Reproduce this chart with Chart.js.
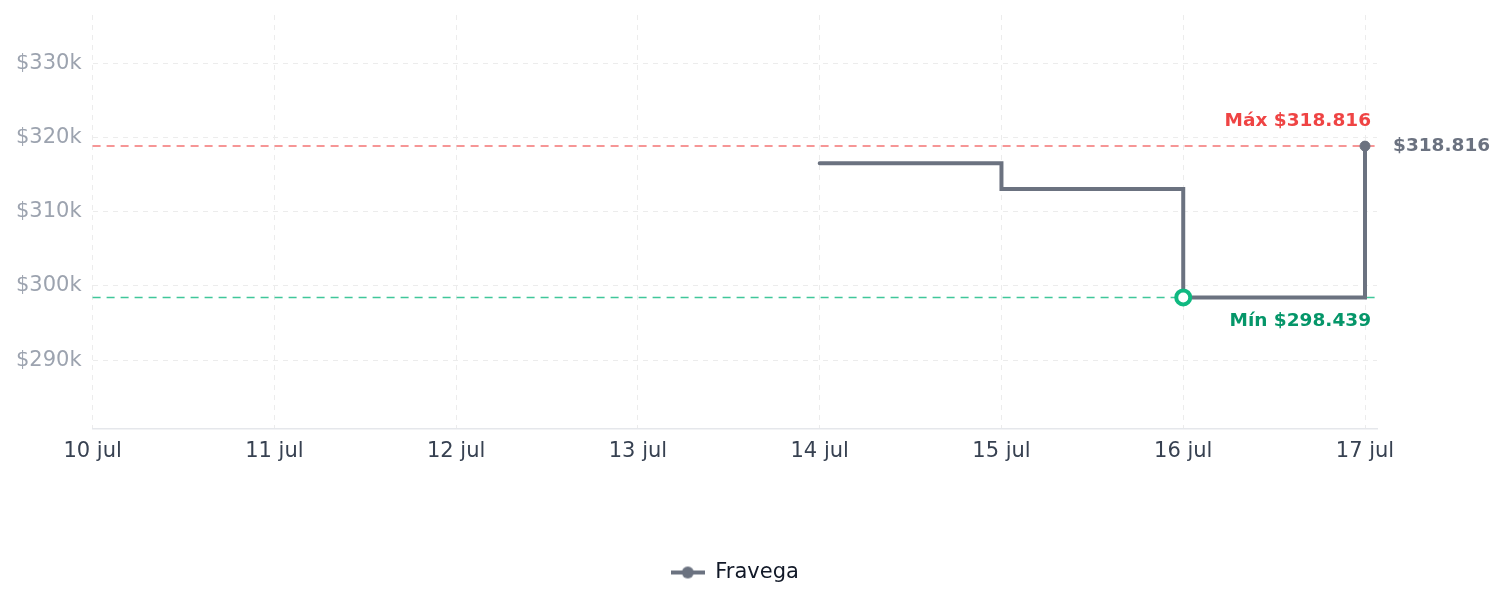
<!DOCTYPE html>
<html>
<head>
<meta charset="utf-8">
<script src="https://cdn.jsdelivr.net/npm/chart.js@4/dist/chart.umd.min.js"></script>
<style>
    html, body { margin: 0; padding: 0; background: #fff; }
    #wrap { width: 1505px; height: 607px; position: relative; }
</style>
</head>
<body>
<div id="wrap"><canvas id="chart"></canvas></div>
<script>
// fechas del eje x
const dates = ['10 jul', '11 jul', '12 jul', '13 jul', '14 jul', '15 jul', '16 jul', '17 jul'];
// precios de Fravega (null = sin dato)
const prices = [null, null, null, null, 316500, 313050, 298439, 318816];
const storeName = 'Fravega';
const yTicks = [290000, 300000, 310000, 320000, 330000];

const known = prices.filter(v => v !== null);
const maxPrice = Math.max(...known);
const minPrice = Math.min(...known);
const lastIdx = prices.length - 1;

function fmt(v) {
    return '$' + String(Math.round(v)).replace(/\B(?=(\d{3})+(?!\d))/g, '.');
}

// icono de la leyenda: linea con punto
function legendIcon() {
    const c = document.createElement('canvas');
    c.width = 34; c.height = 14;
    const g = c.getContext('2d');
    g.strokeStyle = '#6b7280';
    g.lineWidth = 4;
    g.beginPath(); g.moveTo(0, 7); g.lineTo(34, 7); g.stroke();
    g.fillStyle = '#6b7280';
    g.beginPath(); g.arc(17, 7, 6, 0, Math.PI * 2); g.fill();
    return c;
}

const refLines = {
    id: 'refLines',
    beforeDatasetsDraw(chart) {
        const { ctx, chartArea, scales } = chart;
        const lines = [
            { v: maxPrice, color: 'rgba(239, 68, 68, 0.75)' },
            { v: minPrice, color: 'rgba(16, 185, 129, 0.8)' }
        ];
        ctx.save();
        ctx.lineWidth = 1.5;
        ctx.setLineDash([8, 6]);
        lines.forEach(l => {
            const y = scales.y.getPixelForValue(l.v);
            ctx.strokeStyle = l.color;
            ctx.beginPath();
            ctx.moveTo(chartArea.left, y);
            ctx.lineTo(chartArea.right, y);
            ctx.stroke();
        });
        ctx.restore();
    },
    afterDatasetsDraw(chart) {
        const { ctx, chartArea, scales } = chart;
        const yMax = scales.y.getPixelForValue(maxPrice);
        const yMin = scales.y.getPixelForValue(minPrice);
        ctx.save();
        ctx.font = 'bold 18.5px "DejaVu Sans"';
        ctx.textBaseline = 'middle';
        ctx.textAlign = 'right';
        ctx.fillStyle = '#ef4444';
        ctx.fillText('Máx ' + fmt(maxPrice), chartArea.right - 6, yMax - 25);
        ctx.fillStyle = '#059669';
        ctx.fillText('Mín ' + fmt(minPrice), chartArea.right - 6, yMin + 24);
        // valor del ultimo punto
        const lx = scales.x.getPixelForValue(lastIdx);
        const ly = scales.y.getPixelForValue(prices[lastIdx]);
        ctx.textAlign = 'left';
        ctx.fillStyle = '#6b7280';
        ctx.fillText(fmt(prices[lastIdx]), lx + 28, ly);
        ctx.restore();
    }
};

const points = prices.map((v, i) => ({ x: i, y: v }));

new Chart(document.getElementById('chart'), {
    type: 'line',
    data: {
        datasets: [{
            label: storeName,
            data: points,
            stepped: true,
            borderColor: '#6b7280',
            backgroundColor: '#6b7280',
            borderWidth: 4,
            borderCapStyle: 'round',
            spanGaps: false,
            pointRadius: ctx => {
                const v = ctx.raw && ctx.raw.y;
                if (v === minPrice) return 7;
                if (ctx.dataIndex === lastIdx) return 5;
                return 0;
            },
            pointBackgroundColor: ctx => (ctx.raw && ctx.raw.y === minPrice) ? '#ffffff' : '#6b7280',
            pointBorderColor: ctx => (ctx.raw && ctx.raw.y === minPrice) ? '#10b981' : '#6b7280',
            pointBorderWidth: ctx => (ctx.raw && ctx.raw.y === minPrice) ? 4 : 1,
            pointHoverRadius: 0
        }]
    },
    plugins: [refLines],
    options: {
        responsive: true,
        maintainAspectRatio: false,
        animation: false,
        layout: { padding: { left: 5, right: 128, top: 15, bottom: 14 } },
        plugins: {
            legend: {
                position: 'bottom',
                fullSize: false,
                labels: {
                    usePointStyle: true,
                    pointStyle: legendIcon(),
                    pointStyleWidth: 34,
                    color: '#111827',
                    font: { family: '"DejaVu Sans"', size: 21 }
                }
            },
            tooltip: { enabled: false }
        },
        scales: {
            x: {
                type: 'linear',
                min: 0,
                max: dates.length - 1 + 0.066,
                afterFit(scale) { scale.height += 78; },
                ticks: {
                    stepSize: 1,
                    includeBounds: false,
                    autoSkip: false,
                    maxRotation: 0,
                    padding: 10,
                    color: '#374151',
                    font: { family: '"DejaVu Sans"', size: 21 },
                    callback: v => dates[v]
                },
                grid: {
                    color: '#ececec',
                    drawTicks: false
                },
                border: { display: true, color: '#e5e7eb', width: 1.5, dash: [5, 5] }
            },
            y: {
                min: 280750,
                max: 336470,
                afterBuildTicks(scale) { scale.ticks = yTicks.map(v => ({ value: v })); },
                afterFit(scale) { scale.paddingTop = 0; scale.paddingBottom = 0; },
                ticks: {
                    padding: 11,
                    color: '#9ca3af',
                    font: { family: '"DejaVu Sans"', size: 21 },
                    callback: v => '$' + (v / 1000) + 'k'
                },
                grid: {
                    color: '#ececec',
                    drawTicks: false
                },
                border: { display: false, dash: [5, 5] }
            }
        }
    }
});
</script>
</body>
</html>
